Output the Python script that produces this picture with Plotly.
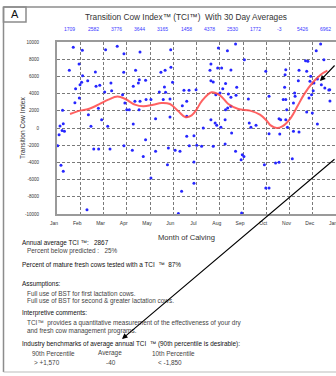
import plotly.graph_objects as go

# ---------------- data ----------------
month_labels = ["Jan", "Feb", "Mar", "Apr", "May", "Jun", "Jul", "Aug", "Sep", "Oct", "Nov", "Dec", "Jan"]
month_ticks = list(range(13))
y_ticks = [10000, 8000, 6000, 4000, 2000, 0, -2000, -4000, -6000, -8000, -10000]
y_tick_text = ["10000", "8000", "6000", "4000", "2000", "0", "-2000", "-4000", "-6000", "-8000", "-10000"]
monthly_avg = ["1709", "2582", "3776", "3644", "3165", "1458", "4378", "2530", "1772", "-3", "5426", "6962"]

# cow calving position (months from Jan 1) and TCI value
cow_month = [
    0.70, 1.09, 2.09, 2.59, 2.88, 0.95, 0.53, 1.65, 2.87, 1.10, 1.32, 1.06, 0.99, 0.80, 1.84, 1.68, 2.32, 2.35, 2.05, 2.82,
    0.96, 0.77, 1.78, 2.92, 0.24, 1.35, 1.92, 0.27, 0.09, 0.32, 1.46, 2.18, 0.03, 1.58, 1.79, 2.28, 2.88, 0.17, 0.27, 1.29,
    0.22, 0.13,
    3.57, 4.89, 3.38, 4.47, 4.65, 4.90, 3.54, 3.81, 3.50, 3.28, 4.97, 4.62, 4.40, 4.67, 5.46, 5.68, 5.98, 4.86, 4.57, 4.04,
    3.83, 3.57, 3.35, 5.58, 5.39, 3.00, 3.11, 3.53, 4.24, 4.86, 3.28, 5.58, 5.58, 5.89, 3.81, 5.69, 4.79, 5.08, 5.29, 3.24,
    4.24, 3.71, 4.75, 5.89, 4.04, 5.89, 5.36, 5.22,
    7.68, 6.94, 7.33, 8.06, 6.62, 6.91, 7.08, 6.58, 7.48, 8.98, 6.62, 6.72, 7.25, 7.73, 7.13, 7.37, 7.48, 7.01, 6.83, 7.70,
    8.23, 9.12, 7.34, 7.25, 7.48, 6.62, 6.80, 6.87, 7.23, 7.05, 8.27, 8.56, 7.51, 8.34, 6.29, 6.01, 6.22, 6.72, 7.23, 7.68,
    7.97, 8.04, 7.92, 8.92, 7.94,
    11.34, 11.15, 11.48, 10.69, 10.79, 9.84, 10.41, 10.74, 9.81, 10.91, 10.38, 10.88, 11.05, 11.20, 11.37, 11.73, 11.52, 9.79,
    11.02, 10.22, 10.24, 10.95, 9.84, 9.73, 10.84, 10.17, 10.74, 10.98, 9.88, 9.55, 9.62, 9.84, 11.20, 9.91, 10.17, 10.41,
    9.58, 9.12, 9.40, 9.55, 10.12, 8.98, 9.12, 11.69, 11.74,
]
cow_tci = [
    9380, 9030, 9110, 9500, 8640, 7440, 6710, 6510, 6470, 6090, 5500, 5310, 5040, 4570, 4960, 4850, 5230, 4340, 4190, 3880,
    3490, 2950, 2290, 2910, 2050, 1550, 970, 500, -780, -390, 190, 190, -2050, -2440, -2440, -2440, -2050, -4340, -5040, -9500,
    -300, 230,
    8840, 9110, 6710, 6470, 6710, 7050, 5620, 5540, 5230, 4850, 5310, 4770, 4190, 4150, 4380, 4380, 4460, 3370, 3300, 3300,
    3300, 3100, 3100, 3100, 2600, 2130, 2130, 2130, 1090, 1280, 470, 1360, -970, -890, -1360, -2050, -2330, -2600, -2710, -2600,
    -2710, -3300, -4260, -3950, -5810, -6430, -7360, -9950,
    9770, 9300, 8990, 7950, 7440, 6980, 6980, 6710, 6740, 6590, 5500, 5350, 5160, 4730, 4570, 3950, 3570, 4070, 3880, 3800,
    3370, 3680, 2330, 2130, 2520, 970, 580, 310, 970, 80, 580, 310, -580, 80, 0, -2020, -2130, -2130, -1860, -2710,
    -3100, -3300, -3680, -4260, -9880,
    9770, 8990, 7950, 7830, 7750, 6780, 6710, 6590, 6200, 6010, 5500, 5430, 5230, 5700, 5040, 4460, 4650, 4730,
    4340, 4070, 3680, 3880, 3300, 3300, 3490, 2910, 1860, 1740, 2130, 1090, 970, 970, 470, 80, -390, -470,
    -700, -660, -4070, -3990, -3570, -6980, -6980, 4420, 3140,
]

# 30 day rolling average curve
avg_month = [0.56, 0.99, 1.35, 1.78, 2.21, 2.60, 2.92, 3.35, 3.71, 4.14, 4.49, 4.86, 5.22, 5.51, 5.79, 6.00, 6.22,
             6.65, 7.01, 7.37, 7.80, 8.30, 8.73, 9.02, 9.19, 9.45, 9.69, 10.05, 10.34, 10.62, 10.98, 11.34, 11.63]
avg_tci = [1630, 2020, 2210, 2710, 3300, 3650, 3400, 2710, 2520, 2710, 2910, 2790, 1940, 1280, 1470, 2130, 3100,
           4150, 3800, 2790, 2210, 2020, 1550, 850, 310, 0, 190, 1160, 2520, 3880, 5230, 6200, 6670]

# ---------------- layout helpers ----------------
W, H = 336, 376
L, R, T, B = 57, 336, 42, 214
FONT = "Liberation Sans, Arial, sans-serif"
TXT = 6.4


def px(x):
    return (x - L) / (R - L)


def py(y):
    return (B - y) / (B - T)


fig = go.Figure()
fig.add_trace(go.Scatter(
    x=cow_month, y=cow_tci, mode="markers",
    marker=dict(color="#2626ff", size=3.0, line=dict(width=0)),
    hoverinfo="skip", showlegend=False,
))
fig.add_trace(go.Scatter(
    x=avg_month, y=avg_tci, mode="lines",
    line=dict(color="rgba(255,70,70,0.85)", width=2, shape="spline", smoothing=1.0),
    hoverinfo="skip", showlegend=False,
))

grid = dict(showgrid=True, gridcolor="#7a7a7a", gridwidth=1, griddash="3px,2px")
fig.update_xaxes(
    range=[0, 12], tickvals=month_ticks, ticktext=month_labels,
    tickfont=dict(size=5, color="#333", family=FONT),
    ticks="", ticklabelshift=-3, ticklabelstandoff=3, ticklabeloverflow="allow",
    showline=True, linecolor="#9a9a9a", linewidth=2, mirror=True,
    zeroline=False, **grid,
)
fig.update_yaxes(
    range=[-10000, 10000], tickvals=y_ticks, ticktext=y_tick_text,
    tickfont=dict(size=4.5, color="#333", family=FONT),
    ticks="", ticklabelstandoff=15,
    showline=True, linecolor="#9a9a9a", linewidth=2,
    zeroline=False, **grid,
)

ann = []
# title
ann.append(dict(x=px(186), y=py(17), xref="paper", yref="paper", showarrow=False,
                text="Transition Cow Index™ (TCI™)  With 30 Day Averages",
                font=dict(size=8.3, color="#333", family=FONT), xanchor="center", yanchor="middle"))
# monthly averages above plot
for i, v in enumerate(monthly_avg):
    ann.append(dict(x=i + 0.55, y=py(29), xref="x", yref="paper", showarrow=False, text=v,
                    font=dict(size=5, color="#3a3aff", family=FONT), xanchor="center", yanchor="middle"))
# axis titles
ann.append(dict(x=px(22), y=py(128), xref="paper", yref="paper", showarrow=False, textangle=-90,
                text="Transition Cow Index", font=dict(size=6.6, color="#333", family=FONT),
                xanchor="center", yanchor="middle"))
ann.append(dict(x=px(186), y=py(237), xref="paper", yref="paper", showarrow=False,
                text="Month of Calving", font=dict(size=7.6, color="#333", family=FONT),
                xanchor="center", yanchor="middle"))
# panel letter
ann.append(dict(x=px(14.5), y=py(14.5), xref="paper", yref="paper", showarrow=False, text="A",
                font=dict(size=11, color="#111", family=FONT), xanchor="center", yanchor="middle"))

text_lines = [
    (20, 243, "Annual average TCI ™:   2867", "#111"),
    (25, 251, "Percent below predicted :   25%", "#444"),
    (20, 264, "Percent of mature fresh cows tested with a TCI  ™  87%", "#111"),
    (20, 284, "Assumptions:", "#111"),
    (25, 293, "Full use of BST for first lactation cows.", "#444"),
    (25, 301, "Full use of BST for second & greater lactation cows.", "#444"),
    (20, 313, "Interpretive comments:", "#111"),
    (25, 323, "TCI™  provides a quantitative measurement of the effectiveness of your dry", "#444"),
    (25, 331, "and fresh cow management programs.", "#444"),
    (20, 344, "Industry benchmarks of average annual TCI  ™ (90th percentile is desirable):", "#111"),
]
for x, y, t, c in text_lines:
    ann.append(dict(x=px(x), y=py(y), xref="paper", yref="paper", showarrow=False, text=t,
                    font=dict(size=TXT, color=c, family=FONT), xanchor="left", yanchor="middle"))

bench_head = ["90th Percentile", "Average", "10th Percentile"]
bench_vals = ["> +1,570", "-40", "< -1,850"]
bench_x = [30, 96, 150]
bench_vx = [32, 104, 156]
for x, t in zip(bench_x, bench_head):
    ann.append(dict(x=px(x), y=py(353), xref="paper", yref="paper", showarrow=False, text=t,
                    font=dict(size=TXT, color="#444", family=FONT), xanchor="left", yanchor="middle"))
for x, t in zip(bench_vx, bench_vals):
    ann.append(dict(x=px(x), y=py(362), xref="paper", yref="paper", showarrow=False, text=t,
                    font=dict(size=TXT, color="#444", family=FONT), xanchor="left", yanchor="middle"))

# arrows
ann.append(dict(x=px(320), y=py(81), xref="paper", yref="paper", showarrow=True, text="",
                ax=26, ay=-17, arrowhead=2, arrowsize=1, arrowwidth=1.1, arrowcolor="#000"))
ann.append(dict(x=px(122), y=py(339), xref="paper", yref="paper", showarrow=True, text="",
                ax=230, ay=-181, arrowhead=2, arrowsize=1, arrowwidth=1.1, arrowcolor="#000"))

shapes = [
    dict(type="line", xref="paper", yref="paper", x0=px(3.5), x1=px(345), y0=py(7), y1=py(7),
         line=dict(color="#8c8c8c", width=1.5)),
    dict(type="line", xref="paper", yref="paper", x0=px(3.5), x1=px(3.5), y0=py(7), y1=py(372),
         line=dict(color="#8c8c8c", width=1.5)),
    dict(type="line", xref="paper", yref="paper", x0=px(3.5), x1=px(345), y0=py(372), y1=py(372),
         line=dict(color="#bbbbbb", width=1)),
    dict(type="rect", xref="paper", yref="paper", x0=px(3.5), x1=px(26), y0=py(22), y1=py(7),
         line=dict(color="#8c8c8c", width=1.5)),
]

fig.update_layout(
    width=W, height=H,
    margin=dict(l=L, r=W - R, t=T, b=H - B),
    paper_bgcolor="white", plot_bgcolor="white",
    annotations=ann, shapes=shapes, showlegend=False,
    font=dict(family=FONT),
)

fig.write_html("out.html", config={"displayModeBar": False},
               post_script="document.body.style.margin='0px';document.body.style.overflow='hidden';")
